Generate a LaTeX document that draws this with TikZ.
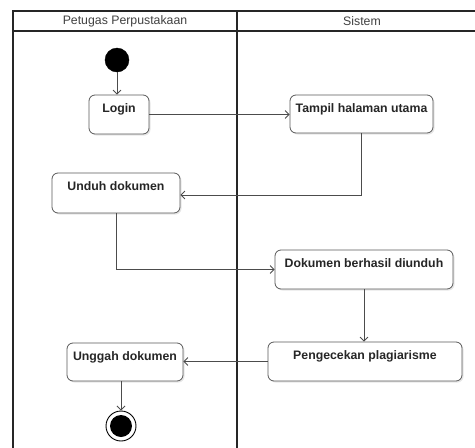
\documentclass[tikz,border=0pt]{standalone}
\usepackage{fontspec}
\setmainfont{Liberation Sans}
\usetikzlibrary{arrows.meta,shadows}
\begin{document}
\begin{tikzpicture}[x=1pt,y=-1pt,
  frameline/.style={line width=1.5pt,draw=black!85},
  hdr/.style={font=\fontsize{12.3}{14}\selectfont,text=black!75,inner sep=0pt},
  actbox/.style={draw=black!65,line width=0.8pt,rounded corners=6pt,fill=white,
    font=\bfseries\fontsize{12.3}{14}\selectfont,text=black!85,
    inner xsep=0pt,inner ysep=0pt,text height=17pt,
    drop shadow={shadow xshift=1.5pt,shadow yshift=-1.5pt,opacity=0.2}},
  flow/.style={draw=black!70,line width=0.8pt,-{Straight Barb[length=4pt,width=8pt]}},
  startdot/.style={circle,fill=black,draw=black,minimum size=24pt,inner sep=0pt},
  endring/.style={circle,fill=white,draw=black,line width=0.9pt,minimum size=30pt,inner sep=0pt},
  enddot/.style={circle,fill=black,minimum size=22pt,inner sep=0pt}
]
\useasboundingbox (0,0) rectangle (475,448);
% swimlane frame
\draw[frameline] (13,470) -- (13,11) -- (500,11);
\draw[frameline] (13,31) -- (500,31);
\draw[frameline] (237,11) -- (237,470);
\node[hdr] (h1) at (125,21) {Petugas Perpustakaan};
\node[hdr] (h2) at (362,21) {Sistem};
% activities
\node[startdot] (start) at (117,60) {};
\node[actbox,minimum width=60pt,text depth=22pt] (login) at (119,114.5) {Login};
\node[actbox,minimum width=143pt,text depth=21pt] (tampil) at (361.5,114) {Tampil halaman utama};
\node[actbox,minimum width=128pt,text depth=23pt] (unduh) at (116,193) {Unduh dokumen};
\node[actbox,minimum width=178pt,text depth=22pt] (dok) at (364,269.5) {Dokumen berhasil diunduh};
\node[actbox,minimum width=194pt,text depth=22pt] (cek) at (365,361.5) {Pengecekan plagiarisme};
\node[actbox,minimum width=116pt,text depth=21pt] (unggah) at (125,362) {Unggah dokumen};
\node[endring] (end) at (121,426) {};
\node[enddot] (enddot) at (end.center) {};
% flows
\draw[flow] (start) -- (start |- login.north);
\draw[flow] (login.east) -- (login.east -| tampil.west);
\draw[flow] (tampil.south) |- ([yshift=-2pt]unduh.east);
\draw[flow] (unduh.south) |- (dok.west);
\draw[flow] (dok.south) -- (dok.south |- cek.north);
\draw[flow] (cek.west) -- (cek.west -| unggah.east);
\draw[flow] (end |- unggah.south) -- (end.north);
\end{tikzpicture}
\end{document}
